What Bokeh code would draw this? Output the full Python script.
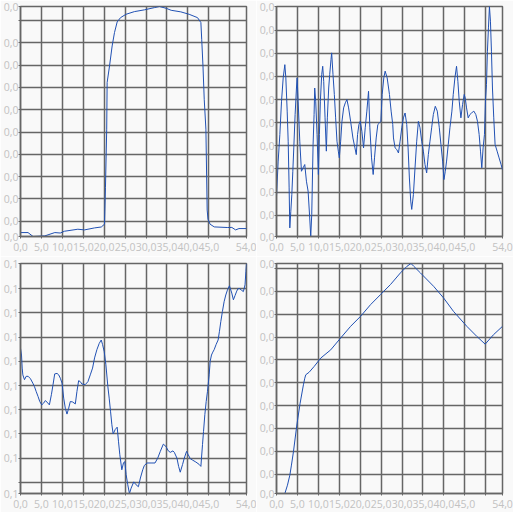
from bokeh.plotting import figure
from bokeh.layouts import gridplot
from bokeh.models import FixedTicker, Range1d, CustomJSTickFormatter
from bokeh.embed import file_html
from bokeh.resources import INLINE

# ---------------- data ----------------
x_ticks = [0, 5, 10, 15, 20, 25, 30, 35, 40, 45, 50, 54]
x_hidden = [50]

# panel 1 (top-left)
x1 = [0, 1.8, 3.0, 5.8, 8.2, 9.5, 10.5, 13.7, 15.3, 17.7, 19.3, 20.07, 20.3, 20.6, 20.7,
      21.27, 21.9, 22.46, 23.1, 23.9, 25.2, 27.2, 29.6, 32.0, 33.2, 34.8, 36.0, 38.3, 40.3,
      42.3, 43.1, 43.3, 43.6, 43.9, 44.3, 44.6, 44.8, 45.3, 46.3, 49.4, 50.5, 51.4, 52.2, 54.0]
y1 = [0.49e-3, 0.49e-3, 0.314e-3, 0.34e-3, 0.49e-3, 0.47e-3, 0.55e-3, 0.64e-3, 0.61e-3, 0.70e-3,
      0.74e-3, 0.865e-3, 2.5e-3, 5.13e-3, 7.22e-3, 7.96e-3, 8.86e-3, 9.46e-3, 9.94e-3, 10.13e-3,
      10.28e-3, 10.40e-3, 10.48e-3, 10.58e-3, 10.63e-3, 10.55e-3, 10.46e-3, 10.39e-3, 10.28e-3,
      10.13e-3, 9.91e-3, 9.16e-3, 7.96e-3, 6.47e-3, 5.13e-3, 1.5e-3, 1.09e-3, 0.865e-3, 0.744e-3,
      0.717e-3, 0.72e-3, 0.61e-3, 0.67e-3, 0.67e-3]
y1_ticks = [1e-3, 2e-3, 3e-3, 4e-3, 5e-3, 6e-3, 7e-3, 8e-3, 9e-3, 10e-3]
y1_hidden = [10e-3]

# panel 2 (top-right)
x2 = [0, 0.40, 0.80, 1.20, 1.60, 1.99, 2.23, 2.55, 2.79, 3.02, 3.18, 3.42, 3.66, 3.90, 4.13,
      4.45, 4.77, 4.93, 5.17, 5.56, 5.96, 6.36, 6.75, 7.15, 7.55, 7.94, 8.18, 8.42, 8.74, 8.98,
      9.13, 9.37, 9.69, 10.01, 10.25, 10.48, 10.80, 11.04, 11.28, 11.60, 11.91, 12.15, 12.47,
      12.71, 13.02, 13.18, 13.50, 13.82, 14.13, 14.45, 14.77, 15.01, 15.33, 15.64, 16.04, 16.44,
      16.83, 17.23, 17.71, 18.26, 18.74, 19.06, 19.37, 19.69, 20.01, 20.40, 20.80, 21.20, 21.59,
      21.99, 22.31, 22.71, 23.10, 23.42, 23.82, 24.21, 24.61, 24.93, 25.25, 25.64, 25.96, 26.44,
      26.99, 27.39, 27.78, 27.95, 28.34, 28.74, 29.14, 29.53, 29.93, 30.33, 30.72, 31.12, 31.44,
      31.75, 32.07, 32.31, 32.71, 33.10, 33.50, 33.90, 34.29, 34.69, 35.09, 35.48, 35.88, 36.28,
      36.67, 37.07, 37.47, 37.94, 38.42, 38.90, 39.29, 39.69, 40.01, 40.33, 40.64, 41.04, 41.44,
      41.91, 42.23, 42.63, 43.02, 43.34, 43.66, 44.06, 44.45, 44.85, 45.09, 45.41, 45.80, 46.20,
      46.60, 47.15, 47.63, 48.02, 48.42, 48.74, 49.05, 49.37, 49.69, 49.93, 50.17, 50.40, 50.64,
      50.88, 51.12, 51.36, 51.60, 51.91, 52.23, 52.71, 53.18, 53.66, 54.00]
y2 = [1.82e-3, 3.34e-3, 4.49e-3, 5.93e-3, 6.94e-3, 7.51e-3, 6.94e-3, 5.50e-3, 4.20e-3, 2.18e-3,
      0.45e-3, 1.17e-3, 1.89e-3, 2.90e-3, 3.91e-3, 5.35e-3, 6.50e-3, 6.94e-3, 5.93e-3, 4.20e-3,
      2.90e-3, 3.05e-3, 3.19e-3, 2.47e-3, 2.04e-3, 0.88e-3, 0.079e-3, 1.03e-3, 4.06e-3, 5.35e-3,
      6.50e-3, 5.93e-3, 4.49e-3, 2.76e-3, 4.49e-3, 5.93e-3, 7.08e-3, 7.44e-3, 6.79e-3, 5.21e-3,
      3.77e-3, 5.21e-3, 6.50e-3, 7.08e-3, 7.73e-3, 8.02e-3, 7.08e-3, 6.22e-3, 5.21e-3, 4.20e-3,
      3.77e-3, 3.48e-3, 4.20e-3, 5.06e-3, 5.64e-3, 5.86e-3, 6.00e-3, 5.64e-3, 5.06e-3, 4.34e-3,
      3.91e-3, 3.62e-3, 4.49e-3, 4.92e-3, 5.06e-3, 4.63e-3, 3.91e-3, 4.78e-3, 5.50e-3, 6.36e-3,
      4.78e-3, 3.48e-3, 2.76e-3, 3.48e-3, 4.34e-3, 4.92e-3, 4.99e-3, 5.06e-3, 6.22e-3, 6.94e-3,
      7.23e-3, 6.94e-3, 6.22e-3, 5.50e-3, 4.92e-3, 4.34e-3, 3.91e-3, 3.84e-3, 3.69e-3, 4.20e-3,
      4.78e-3, 5.21e-3, 5.42e-3, 4.92e-3, 3.91e-3, 2.61e-3, 1.61e-3, 1.25e-3, 1.89e-3, 3.05e-3,
      4.20e-3, 5.06e-3, 4.78e-3, 4.20e-3, 3.77e-3, 3.19e-3, 2.83e-3, 3.62e-3, 4.20e-3, 4.78e-3,
      5.35e-3, 5.71e-3, 5.50e-3, 4.78e-3, 4.06e-3, 3.34e-3, 2.54e-3, 2.90e-3, 3.34e-3, 4.06e-3,
      4.78e-3, 5.50e-3, 6.22e-3, 6.94e-3, 7.44e-3, 6.79e-3, 5.93e-3, 5.21e-3, 5.78e-3, 6.22e-3,
      6.07e-3, 5.64e-3, 5.21e-3, 5.35e-3, 5.42e-3, 5.50e-3, 5.35e-3, 5.06e-3, 4.49e-3, 3.77e-3,
      3.05e-3, 3.91e-3, 4.49e-3, 5.93e-3, 6.65e-3, 8.09e-3, 9.10e-3, 10.025e-3, 9.39e-3, 8.09e-3,
      6.50e-3, 5.21e-3, 4.06e-3, 3.77e-3, 3.48e-3, 3.19e-3, 2.97e-3]
y2_ticks = [1e-3, 2e-3, 3e-3, 4e-3, 5e-3, 6e-3, 7e-3, 8e-3, 9e-3]
y2_hidden = []

# panel 3 (bottom-left)
x3 = [0, 0.24, 0.40, 0.56, 0.95, 1.35, 1.83, 2.38, 2.94, 3.33, 3.73, 4.21, 4.60, 5.08, 5.56,
      5.95, 6.51, 6.90, 7.38, 7.78, 8.17, 8.73, 9.13, 9.52, 9.92, 10.32, 10.71, 11.11, 11.51,
      11.90, 12.46, 13.10, 13.49, 13.89, 14.29, 14.68, 15.48, 16.11, 16.67, 17.22, 17.70, 18.25,
      18.81, 19.29, 19.60, 20.00, 20.40, 20.87, 21.19, 21.51, 21.83, 22.14, 22.62, 23.10, 23.41,
      23.73, 24.21, 24.60, 24.92, 25.24, 25.63, 26.03, 26.43, 27.06, 27.62, 28.17, 28.65, 29.21,
      29.60, 30.24, 31.19, 32.14, 32.78, 33.41, 34.13, 34.76, 35.32, 35.79, 36.43, 36.75, 37.38,
      37.78, 38.17, 38.73, 39.13, 39.68, 40.08, 40.56, 41.11, 41.90, 42.70, 43.10, 43.49, 43.73,
      44.05, 44.37, 44.68, 45.08, 45.32, 45.63, 45.95, 46.27, 46.75, 47.22, 47.54, 47.86, 48.25,
      48.65, 49.05, 49.44, 49.92, 50.48, 50.87, 51.27, 51.67, 51.98, 52.38, 52.78, 53.25, 53.65,
      53.85, 54.00]
y3 = [0.1277, 0.1263, 0.1236, 0.1222, 0.1212, 0.1219, 0.1219, 0.1214, 0.1205, 0.1198, 0.1188,
      0.1177, 0.1167, 0.1160, 0.1164, 0.1169, 0.1164, 0.1160, 0.1181, 0.1202, 0.1224, 0.1225,
      0.1222, 0.1215, 0.1205, 0.1174, 0.1153, 0.1141, 0.1153, 0.1167, 0.1166, 0.1162, 0.1188,
      0.1210, 0.1208, 0.1203, 0.1202, 0.1208, 0.1222, 0.1236, 0.1257, 0.1274, 0.1287, 0.1294,
      0.1285, 0.1270, 0.1243, 0.1198, 0.1174, 0.1147, 0.1119, 0.1100, 0.1109, 0.1114, 0.1085,
      0.1057, 0.1026, 0.1040, 0.1043, 0.1016, 0.0995, 0.0977, 0.0988, 0.1001, 0.0995, 0.0991,
      0.1009, 0.1026, 0.1035, 0.1040, 0.1040, 0.1040, 0.1050, 0.1064, 0.1079, 0.1074, 0.1065,
      0.1062, 0.1065, 0.1062, 0.1050, 0.1033, 0.1021, 0.1037, 0.1050, 0.1064, 0.1057, 0.1049,
      0.1046, 0.1042, 0.1037, 0.1033, 0.1078, 0.1105, 0.1140, 0.1167, 0.1188, 0.1222, 0.1250,
      0.1263, 0.1269, 0.1274, 0.1285, 0.1294, 0.1312, 0.1332, 0.1353, 0.1373, 0.1387, 0.1397,
      0.1406, 0.1391, 0.1377, 0.1386, 0.1395, 0.1400, 0.1400, 0.1397, 0.1394, 0.1408, 0.1435,
      0.1452]
y3_ticks = [0.100, 0.105, 0.110, 0.115, 0.120, 0.125, 0.130, 0.135, 0.140]
y3_hidden = [0.100]

# panel 4 (bottom-right)
x4 = [0, 2.0, 2.62, 3.19, 3.57, 4.05, 4.86, 5.64, 6.43, 6.76, 7.0, 7.79, 8.98, 10.57, 12.95,
      15.33, 17.71, 20.10, 22.48, 24.86, 27.24, 29.62, 31.19, 32.14, 32.79, 34.38, 37.55, 39.93,
      42.31, 45.48, 47.86, 49.86, 51.83, 54.0]
y4 = [0.153e-3, 0.153e-3, 0.517e-3, 0.956e-3, 1.395e-3, 1.98e-3, 3.15e-3, 4.10e-3, 4.91e-3,
      5.20e-3, 5.35e-3, 5.46e-3, 5.71e-3, 6.08e-3, 6.44e-3, 6.96e-3, 7.47e-3, 7.91e-3, 8.42e-3,
      8.86e-3, 9.30e-3, 9.81e-3, 10.10e-3, 10.22e-3, 10.10e-3, 9.81e-3, 9.22e-3, 8.71e-3, 8.12e-3,
      7.47e-3, 7.03e-3, 6.69e-3, 7.10e-3, 7.47e-3]
y4_ticks = [1e-3, 2e-3, 3e-3, 4e-3, 5e-3, 6e-3, 7e-3, 8e-3, 9e-3, 10e-3]
y4_hidden = [10e-3]

# ---------------- style ----------------
BG = "#f9f9f9"
GRID = "#666666"
LINE = "#2151b3"
LABEL = "#c2c2c2"
FONT = "Open Sans"

FMT_CODE = """
for (const h of hidden) { if (Math.abs(tick - h) < 1e-9) return ""; }
return tick.toFixed(1).replace(".", ",");
"""


def make_panel(x, y, yt, yhidden, width, height, mbl, mbr, mbt, mbb):
    assert len(x) == len(y)
    ymin, ymax = min(y), max(y)
    p = figure(width=width, height=height,
               x_range=Range1d(0, 54), y_range=Range1d(ymin, ymax),
               output_backend="svg", toolbar_location=None,
               min_border_left=mbl, min_border_right=mbr,
               min_border_top=mbt, min_border_bottom=mbb)
    p.background_fill_color = BG
    p.border_fill_color = BG
    p.outline_line_color = GRID
    p.outline_line_width = 1.5

    yt_all = [ymin] + yt + [ymax]
    p.xaxis.ticker = FixedTicker(ticks=x_ticks)
    p.yaxis.ticker = FixedTicker(ticks=yt_all)
    p.xgrid.ticker = FixedTicker(ticks=x_ticks)
    p.ygrid.ticker = FixedTicker(ticks=yt_all)
    p.xaxis.formatter = CustomJSTickFormatter(args=dict(hidden=x_hidden), code=FMT_CODE)
    p.yaxis.formatter = CustomJSTickFormatter(args=dict(hidden=yhidden), code=FMT_CODE)

    for g in (p.xgrid, p.ygrid):
        g.grid_line_color = GRID
        g.grid_line_width = 1.5
    for ax in (p.xaxis, p.yaxis):
        ax.axis_line_color = GRID
        ax.axis_line_width = 1.5
        ax.major_tick_line_color = GRID
        ax.major_tick_out = 2
        ax.major_tick_in = 0
        ax.minor_tick_line_color = None
        ax.major_label_text_font = FONT
        ax.major_label_text_font_size = "10.5px"
        ax.major_label_text_color = LABEL
    p.yaxis.major_label_standoff = 0
    p.xaxis.major_label_standoff = 4

    p.line(x, y, line_color=LINE, line_width=1)
    return p


# left column: frame x 19..246 ; right column: frame x 275..502
p1 = make_panel(x1, y1, y1_ticks, y1_hidden, 256, 256, 19, 10, 6, 20)
p2 = make_panel(x2, y2, y2_ticks, y2_hidden, 257, 256, 19, 11, 6, 20)
p3 = make_panel(x3, y3, y3_ticks, y3_hidden, 256, 256, 19, 10, 7, 19)
p4 = make_panel(x4, y4, y4_ticks, y4_hidden, 257, 256, 19, 11, 7, 19)

grid = gridplot([[p1, p2], [p3, p4]], toolbar_location=None)

open("out.html", "w").write(file_html(grid, INLINE))
